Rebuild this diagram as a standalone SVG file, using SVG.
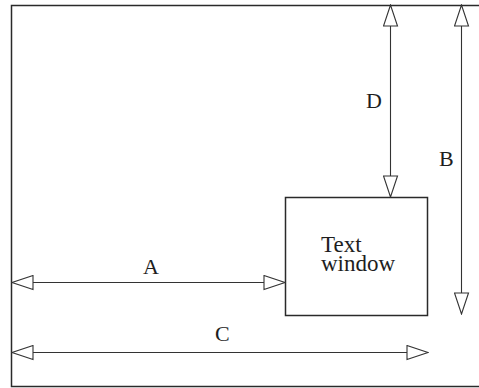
<svg xmlns="http://www.w3.org/2000/svg" width="479" height="388" viewBox="0 0 479 388">
  <style>
    .frame { fill: none; stroke: #2a2a2a; stroke-width: 1.5; }
    .box { fill: #ffffff; stroke: #2a2a2a; stroke-width: 1.5; }
    .dim { fill: none; stroke: #333333; stroke-width: 1.1; marker-start: url(#head); marker-end: url(#head); }
    .lbl { font-family: "Liberation Serif", "Times New Roman", serif; font-size: 22px; fill: #1e1e1e; }
    .win { font-size: 23px; }
  </style>
  <defs>
    <marker id="head" viewBox="0 0 23 16" refX="22" refY="8" markerWidth="23" markerHeight="16" markerUnits="userSpaceOnUse" orient="auto-start-reverse">
      <path d="M1,1 L22,8 L1,15 Z" fill="#ffffff" stroke="#333333" stroke-width="1.1"/>
    </marker>
  </defs>
  <rect width="479" height="388" fill="#ffffff"/>
  <g id="screen">
    <rect class="frame" x="11.5" y="5.5" width="480" height="381"/>
  </g>
  <g id="text-window">
    <rect class="box" x="285.5" y="197.5" width="142" height="118"/>
    <text class="lbl win" x="321" y="252"><tspan x="321" y="252">Text</tspan><tspan x="321" y="270.5">window</tspan></text>
  </g>
  <g id="connectors">
    <line class="dim" x1="390.5" y1="5" x2="390.5" y2="197"/>
    <line class="dim" x1="461.5" y1="5" x2="461.5" y2="314"/>
    <line class="dim" x1="12" y1="282.5" x2="285" y2="282.5"/>
    <line class="dim" x1="12" y1="352.5" x2="428" y2="352.5"/>
  </g>
  <g id="labels">
    <text class="lbl" x="366" y="108">D</text>
    <text class="lbl" x="439" y="166">B</text>
    <text class="lbl" x="143" y="274">A</text>
    <text class="lbl" x="215" y="341">C</text>
  </g>
</svg>
